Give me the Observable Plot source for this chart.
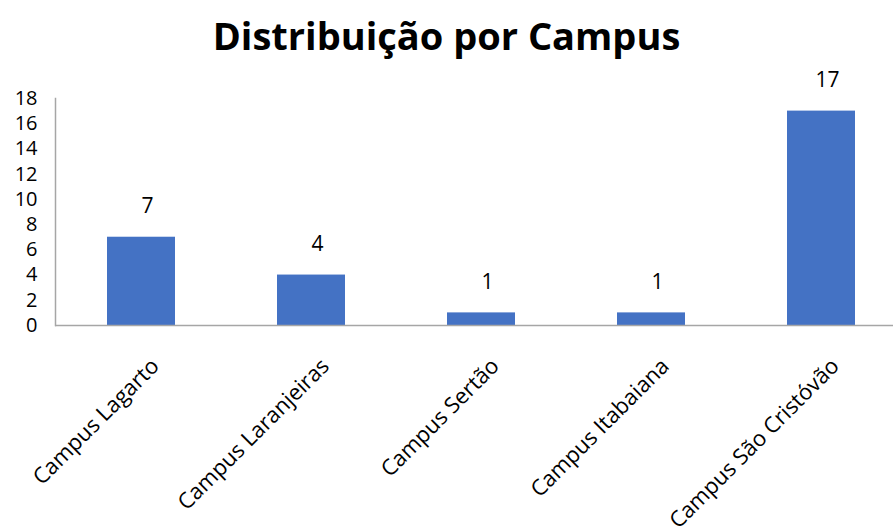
<!DOCTYPE html>
<html>
<head>
<meta charset="utf-8">
<script src="https://cdn.jsdelivr.net/npm/d3@7"></script>
<script src="https://cdn.jsdelivr.net/npm/@observablehq/plot@0.6"></script>
<style>
  body { margin: 0; background: #fff; }
  #title { height: 70px; line-height: 70px; text-align: center; font-family: "Open Sans", sans-serif; font-weight: bold; font-size: 38px; color: #000; width: 893px; }
</style>
</head>
<body>
<div id="title">Distribuição por Campus</div>
<div id="chart"></div>
<script>
const campuses = ["Campus Lagarto", "Campus Laranjeiras", "Campus Sertão", "Campus Itabaiana", "Campus São Cristóvão"];
const counts = [7, 4, 1, 1, 17];
const yTicks = [0, 2, 4, 6, 8, 10, 12, 14, 16, 18];

const data = campuses.map((c, i) => ({campus: c, count: counts[i]}));

const chart = Plot.plot({
  width: 893,
  height: 461,
  marginTop: 28,
  marginBottom: 206,
  marginLeft: 55,
  marginRight: 0,
  style: {fontFamily: "Open Sans, sans-serif", fontSize: "20px", color: "#000", background: "#fff", overflow: "visible"},
  x: {domain: campuses, range: [55, 907], paddingInner: 0.6, paddingOuter: 0.3},
  y: {domain: [0, 18], ticks: yTicks},
  marks: [
    Plot.barY(data, {x: "campus", y: "count", fill: "#4472C4"}),
    Plot.frame({anchor: "left", stroke: "#a6a6a6", strokeWidth: 1.5, strokeOpacity: 1}),
    Plot.ruleY([0], {stroke: "#a6a6a6", strokeWidth: 1.5}),
    Plot.text(data, {x: "campus", y: "count", text: d => String(d.count), dy: -31, dx: 6, fontSize: 21, fill: "#000"}),
    Plot.axisY({ticks: yTicks, tickSize: 0, tickPadding: 18, fontSize: 20, label: null, fill: "#000"}),
    Plot.axisX({tickSize: 0, tickRotate: -45, tickPadding: 12, dx: 14, dy: 25, fontSize: 22, label: null, fill: "#000"})
  ]
});
document.getElementById("chart").appendChild(chart);
</script>
</body>
</html>
